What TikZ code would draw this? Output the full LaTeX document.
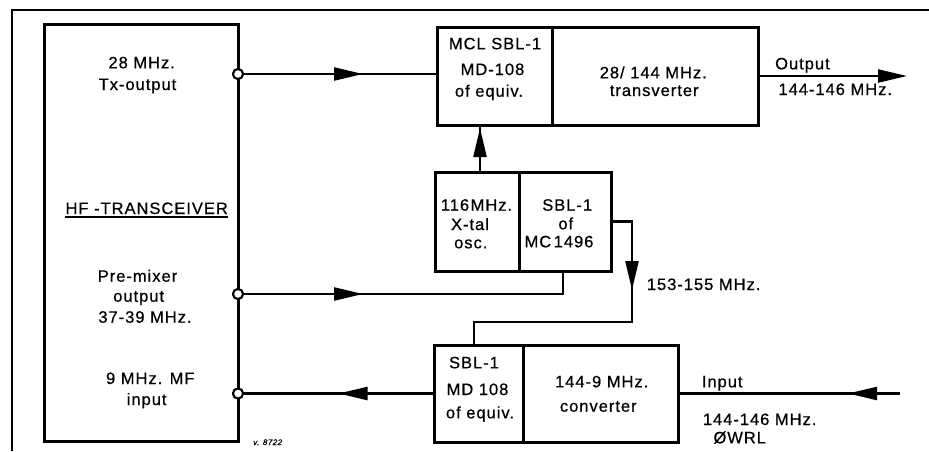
\documentclass[tikz,border=0pt]{standalone}
\usepackage{fontspec}
\setmainfont{Liberation Sans}[LetterSpace=6, FakeBold=0.6]
\usetikzlibrary{arrows.meta,decorations.markings}
\tikzset{
  cell/.style={draw, rectangle, line width=3pt, inner sep=0pt},
  conn/.style={line width=2.3pt},
  port/.style={circle, draw, fill=white, line width=2pt, minimum size=10pt, inner sep=0pt},
  lbl/.style={font=\fontsize{16.5}{19}\selectfont, inner sep=0pt, anchor=base},
  lbll/.style={lbl, anchor=base west},
  arrowat/.style={postaction={decorate, decoration={markings, mark=at position #1 with {\arrow{Triangle[length=29pt,width=13pt]}}}}},
}
\begin{document}
\begin{tikzpicture}[x=1pt,y=-1pt]
\useasboundingbox (0,0) rectangle (929,451);
% outer frame
\draw[line width=1.4pt] (12,451) -- (12,10) -- (929,10);

\node[port] (p1) at (238,74) {};
\node[port] (p2) at (238,294) {};
\node[port] (p3) at (238,393.5) {};

\node[cell, minimum width=194pt, minimum height=417pt] (hf) at (141,232.5) {};
\node[cell, minimum width=115pt, minimum height=98pt] (mcl) at (494.5,76) {};
\node[cell, minimum width=206pt, minimum height=98pt] (trv) at (655,76) {};
\node[cell, minimum width=84pt, minimum height=99pt] (xtal) at (477,221.5) {};
\node[cell, minimum width=92pt, minimum height=99pt] (mc) at (565,221.5) {};
\node[cell, minimum width=89pt, minimum height=97pt] (sbl) at (478.5,393.5) {};
\node[cell, minimum width=155pt, minimum height=97pt] (conv) at (600.5,393.5) {};

\coordinate (k1) at (563,294);
\coordinate (u1) at (480,172);
\coordinate (outend) at (907,76);
\coordinate (inend) at (900,393.5);
\coordinate (r2) at (632,322);
\coordinate (r3) at (474,322);

% connectors
\draw[conn, arrowat=119pt] (p1) -- (p1 -| mcl.west);
\draw[conn, arrowat=119pt] (p2) -- (k1) -- (k1 |- mc.south);
\draw[conn, arrowat=44pt] (u1) -- (u1 |- mcl.south);
\draw[conn, -{Triangle[length=29pt,width=13pt]}] (trv.east) -- (outend);
\draw[conn, arrowat=52pt] (inend) -- (conv.east);
\draw[conn, arrowat=94pt] (sbl.west) -- (p3);
\draw[conn, arrowat=88pt] (mc.east) -| (r2) -- (r3) -- (r3 |- sbl.north);

\node[port] at (p1) {};
\node[port] at (p2) {};
\node[port] at (p3) {};

% HF transceiver labels
\node[lbl] (h1) at (141.7,68.3) {28 MHz.};
\node[lbl] (h2) at (137.5,90) {Tx-output};
\node[lbl] (h3) at (146.7,214) {HF -TRANSCEIVER};
\draw[line width=1.3pt] ([yshift=-3pt]h3.base west) -- ([yshift=-3pt]h3.base east);
\node[lbl] (h4) at (137.5,281.7) {Pre-mixer};
\node[lbl] (h5) at (138.7,301.7) {output};
\node[lbl] (h6) at (145,322.7) {37-39 MHz.};
\node[lbl] (h7) at (150.3,384) {9 MHz. MF};
\node[lbl] (h8) at (146.7,405) {input};

% top box labels
\node[lbl] (m1) at (495,49.3) {MCL SBL-1};
\node[lbl] (m2) at (492.5,75) {MD-108};
\node[lbl] (m3) at (489,96.7) {of equiv.};
\node[lbl] (t1) at (653.3,78.3) {28/ 144 MHz.};
\node[lbl] (t2) at (654.2,96) {transverter};
\node[lbll] (o1) at (775,69.3) {Output};
\node[lbll] (o2) at (778.3,95) {144-146 MHz.};

% middle box labels
\node[lbl] (x1) at (476.5,210.7) {116\hspace{1.5pt}MHz.};
\node[lbl] (x2) at (470,230) {X-tal};
\node[lbl] (x3) at (470.8,248.3) {osc.};
\node[lbl] (s1) at (567.2,210.7) {SBL-1};
\node[lbl] (s2) at (565.8,229.3) {of};
\node[lbl] (s3) at (559,247.3) {MC\hspace{2.5pt}1496};
\node[lbll] (f1) at (646.7,290) {153-155 MHz.};

% bottom box labels
\node[lbl] (b1) at (474,368.3) {SBL-1};
\node[lbl] (b2) at (477.5,395) {MD 108};
\node[lbl] (b3) at (480,418.3) {of equiv.};
\node[lbl] (c1) at (601.7,387.3) {144-9 MHz.};
\node[lbl] (c2) at (598.3,411.7) {converter};
\node[lbll] (i1) at (701.7,387.3) {Input};
\node[lbll] (i2) at (702.7,425) {144-146 MHz.};
\node[lbll] (i3) at (713.3,443.3) {ØWRL};

\node[font=\fontsize{8}{9}\selectfont\itshape, inner sep=0pt, anchor=base west] (ref) at (253,445) {v. 8722};
\end{tikzpicture}
\end{document}
